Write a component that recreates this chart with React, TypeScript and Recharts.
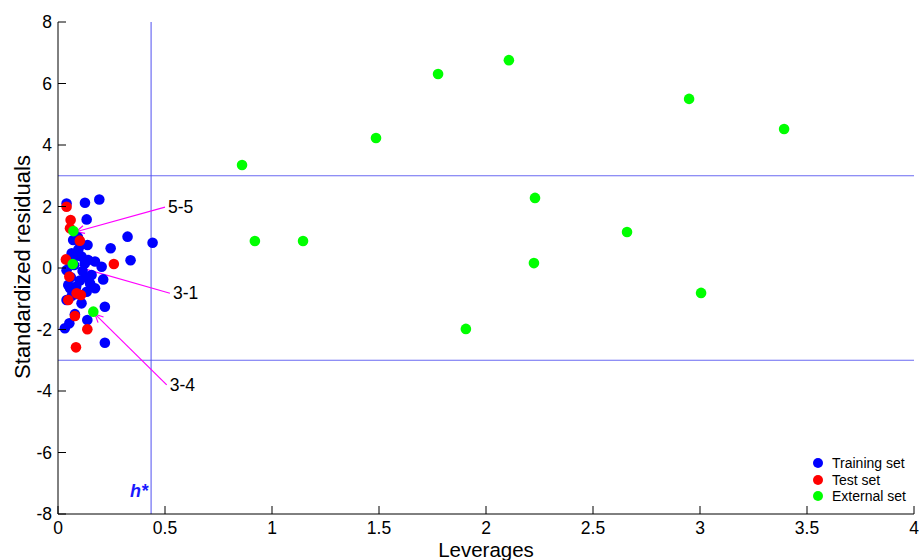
import {
  ScatterChart,
  Scatter,
  XAxis,
  YAxis,
  ReferenceLine,
  Legend,
} from "recharts";

const FONT = "'Liberation Sans', Arial, sans-serif";

// leverage / standardized residual pairs
const trainingSet = [
  { x: 0.04, y: 2.1 }, { x: 0.126, y: 2.12 }, { x: 0.193, y: 2.23 },
  { x: 0.134, y: 1.58 }, { x: 0.071, y: 0.91 }, { x: 0.093, y: 1.0 },
  { x: 0.138, y: 0.75 }, { x: 0.064, y: 0.48 }, { x: 0.325, y: 1.02 },
  { x: 0.442, y: 0.82 }, { x: 0.246, y: 0.64 }, { x: 0.339, y: 0.25 },
  { x: 0.11, y: 0.37 }, { x: 0.141, y: 0.26 }, { x: 0.173, y: 0.21 },
  { x: 0.204, y: 0.04 }, { x: 0.04, y: -0.07 }, { x: 0.125, y: 0.15 },
  { x: 0.157, y: -0.23 }, { x: 0.13, y: -0.3 }, { x: 0.211, y: -0.37 },
  { x: 0.102, y: -0.41 }, { x: 0.048, y: -0.55 }, { x: 0.056, y: -0.66 },
  { x: 0.173, y: -0.66 }, { x: 0.134, y: -0.77 }, { x: 0.085, y: -0.6 },
  { x: 0.04, y: -1.04 }, { x: 0.11, y: -1.15 }, { x: 0.219, y: -1.26 },
  { x: 0.079, y: -1.5 }, { x: 0.137, y: -1.69 }, { x: 0.053, y: -1.8 },
  { x: 0.032, y: -1.96 }, { x: 0.219, y: -2.43 }, { x: 0.095, y: 0.6 },
  { x: 0.075, y: 0.1 }, { x: 0.115, y: -0.1 }, { x: 0.06, y: -0.3 },
  { x: 0.15, y: -0.5 }, { x: 0.065, y: -0.9 }, { x: 0.095, y: -0.85 },
  { x: 0.055, y: 0.2 }, { x: 0.105, y: 0.75 }, { x: 0.085, y: 0.4 },
];

const testSet = [
  { x: 0.04, y: 1.99 }, { x: 0.059, y: 1.56 }, { x: 0.056, y: 1.29 },
  { x: 0.102, y: 0.89 }, { x: 0.037, y: 0.28 }, { x: 0.261, y: 0.13 },
  { x: 0.053, y: -0.28 }, { x: 0.087, y: -0.82 }, { x: 0.107, y: -0.88 },
  { x: 0.048, y: -1.04 }, { x: 0.079, y: -1.56 }, { x: 0.137, y: -1.99 },
  { x: 0.084, y: -2.58 },
];

const externalSet = [
  { x: 0.072, y: 1.2 }, { x: 0.069, y: 0.13 }, { x: 0.165, y: -1.42 },
  { x: 0.86, y: 3.35 }, { x: 0.92, y: 0.88 }, { x: 1.145, y: 0.88 },
  { x: 1.486, y: 4.23 }, { x: 1.776, y: 6.31 }, { x: 2.107, y: 6.76 },
  { x: 1.906, y: -1.98 }, { x: 2.229, y: 2.28 }, { x: 2.224, y: 0.16 },
  { x: 2.659, y: 1.17 }, { x: 2.949, y: 5.5 }, { x: 3.005, y: -0.81 },
  { x: 3.393, y: 4.52 },
];

const seriesNames = ["Training set", "Test set", "External set"];

const xTicks = [0, 0.5, 1, 1.5, 2, 2.5, 3, 3.5, 4];
const yTicks = [-8, -6, -4, -2, 0, 2, 4, 6, 8];

const hStar = 0.435;
const residualLimit = 3;

// labelled compounds: label anchor -> arrow tip
const annotations = [
  { label: "5-5", from: { x: 0.5, y: 1.98 }, to: { x: 0.085, y: 1.18 } },
  { label: "3-1", from: { x: 0.523, y: -0.82 }, to: { x: 0.08, y: 0.06 } },
  { label: "3-4", from: { x: 0.508, y: -3.8 }, to: { x: 0.173, y: -1.5 } },
];

const dot = (color: string) => (props: any) =>
  <circle cx={props.cx} cy={props.cy} r={5.3} fill={color} />;

const XTick = (props: any) => {
  const { x, y, payload } = props;
  return (
    <g>
      <line x1={x} y1={y} x2={x} y2={y - 8} stroke="#000" />
      <text x={x} y={y + 20} textAnchor="middle" fontSize={17.5} fontFamily={FONT} fill="#000">
        {payload.value}
      </text>
    </g>
  );
};

const YTick = (props: any) => {
  const { x, y, payload } = props;
  return (
    <g>
      <line x1={x} y1={y} x2={x + 8} y2={y} stroke="#000" />
      <text x={x - 6} y={y + 6} textAnchor="end" fontSize={17.5} fontFamily={FONT} fill="#000">
        {payload.value}
      </text>
    </g>
  );
};

const arrowShape = (label: string) => (props: any) => {
  const { x1, y1, x2, y2 } = props;
  const ang = Math.atan2(y2 - y1, x2 - x1);
  const len = 9;
  const spread = 0.45;
  const ax = x2 - len * Math.cos(ang - spread);
  const ay = y2 - len * Math.sin(ang - spread);
  const bx = x2 - len * Math.cos(ang + spread);
  const by = y2 - len * Math.sin(ang + spread);
  return (
    <g>
      <line x1={x1} y1={y1} x2={x2} y2={y2} stroke="#ff00ff" strokeWidth={1.2} />
      <polyline points={`${ax},${ay} ${x2},${y2} ${bx},${by}`} fill="none" stroke="#ff00ff" strokeWidth={1.2} />
      <text x={x1 + 3} y={y1 + 6} fontSize={17.5} fontFamily={FONT} fill="#000">
        {label}
      </text>
    </g>
  );
};

const LegendContent = (props: any) => {
  const items = [...(props.payload || [])].sort(
    (a: any, b: any) => seriesNames.indexOf(a.value) - seriesNames.indexOf(b.value)
  );
  return (
    <div style={{ fontFamily: FONT, fontSize: 14, lineHeight: "16.5px", color: "#000" }}>
      {items.map((p: any) => (
        <div key={p.value} style={{ display: "flex", alignItems: "center" }}>
          <span
            style={{
              width: 10,
              height: 10,
              borderRadius: 5,
              background: p.color,
              display: "inline-block",
              marginRight: 9,
            }}
          />
          {p.value}
        </div>
      ))}
    </div>
  );
};

export default function App() {
  return (
    <div style={{ position: "absolute", left: 0, top: 0, background: "#fff" }}>
      <ScatterChart width={919} height={560} margin={{ top: 22, right: 5, bottom: 0, left: 0 }}>
        <XAxis
          type="number"
          dataKey="x"
          domain={[0, 4]}
          ticks={xTicks}
          height={46}
          tickSize={0}
          tickMargin={0}
          tickLine={false}
          tick={<XTick />}
          axisLine={{ stroke: "#000" }}
          allowDataOverflow
          label={() => (
            <text x={486} y={557} textAnchor="middle" fontSize={20.5} fontFamily={FONT} fill="#000">
              Leverages
            </text>
          )}
        />
        <YAxis
          type="number"
          dataKey="y"
          domain={[-8, 8]}
          ticks={yTicks}
          width={58}
          tickSize={0}
          tickMargin={0}
          tickLine={false}
          tick={<YTick />}
          axisLine={{ stroke: "#000" }}
          allowDataOverflow
          label={() => (
            <text
              x={22}
              y={267}
              textAnchor="middle"
              dominantBaseline="central"
              transform="rotate(-90 22 267)"
              fontSize={22}
              fontFamily={FONT}
              fill="#000"
            >
              Standardized residuals
            </text>
          )}
        />
        <ReferenceLine y={residualLimit} stroke="#6a6af2" strokeWidth={1.2} />
        <ReferenceLine y={-residualLimit} stroke="#6a6af2" strokeWidth={1.2} />
        <ReferenceLine
          x={hStar}
          stroke="#5050f0"
          strokeWidth={1}
          label={(p: any) => {
            const vb = p.viewBox || {};
            return (
              <text
                x={(vb.x ?? 151) - 3}
                y={497}
                textAnchor="end"
                fontSize={18}
                fontWeight="bold"
                fontStyle="italic"
                fontFamily={FONT}
                fill="#1a1aff"
              >
                h*
              </text>
            );
          }}
        />
        <Scatter name={seriesNames[0]} data={trainingSet} fill="#0000ff" shape={dot("#0000ff")} isAnimationActive={false} />
        <Scatter name={seriesNames[1]} data={testSet} fill="#ff0000" shape={dot("#ff0000")} isAnimationActive={false} />
        <Scatter name={seriesNames[2]} data={externalSet} fill="#00ff00" shape={dot("#00ff00")} isAnimationActive={false} />
        {annotations.map((a) => (
          <ReferenceLine
            key={a.label}
            segment={[a.from, a.to]}
            ifOverflow="visible"
            shape={arrowShape(a.label)}
          />
        ))}
        <Legend
          layout="vertical"
          align="center"
          verticalAlign="middle"
          wrapperStyle={{ left: 813, top: 455, width: 105 }}
          content={<LegendContent />}
        />
      </ScatterChart>
    </div>
  );
}
